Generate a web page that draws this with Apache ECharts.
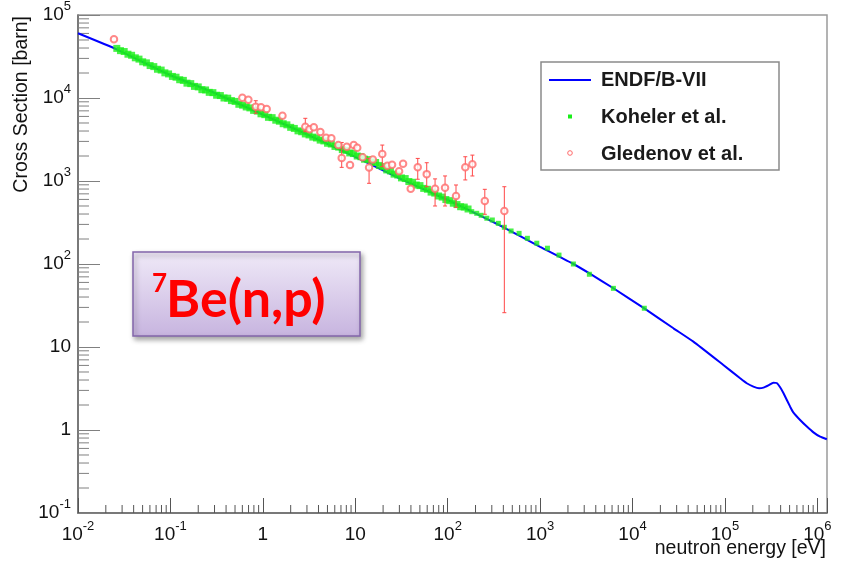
<!DOCTYPE html>
<html>
<head>
<meta charset="utf-8">
<script src="https://cdn.jsdelivr.net/npm/echarts@6/dist/echarts.min.js"></script>
<style>
  html, body { margin: 0; padding: 0; background: #fff; }
  #main { width: 846px; height: 563px; }
</style>
</head>
<body>
<div id="main"></div>
<script>
// axis ranges / ticks
const xMin = 0.01, xMax = 1.27e6;
const yMin = 0.1, yMax = 1e5;
const xDecades = [0.01, 0.1, 1, 10, 100, 1e3, 1e4, 1e5, 1e6];
const yDecades = [0.1, 1, 10, 100, 1e3, 1e4];
const minorSteps = [2, 3, 4, 5, 6, 7, 8, 9];

// ENDF/B-VII evaluation
const endfEnergy = [0.01, 0.0262, 0.1, 0.3, 1, 3, 10, 31.6, 100, 200, 397, 1000, 2290, 3560, 6210,
  13400, 27700, 45500, 96000, 146000, 172000, 203000, 234000, 261000, 295000, 334000, 363000, 395000,
  430000, 507000, 551000, 650000, 769000, 906000, 1070000, 1265000];
const endfSigma = [60300, 38600, 18800, 11500, 6300, 3650, 1950, 1050, 590, 408, 279, 161, 100, 75, 51,
  29.2, 16.8, 11.6, 6.07, 4.20, 3.66, 3.33, 3.18, 3.24, 3.45, 3.71, 3.68, 3.27,
  2.77, 1.91, 1.62, 1.32, 1.10, 0.937, 0.83, 0.773];

// Koehler et al.
const koehlerEnergy = [0.0263, 0.0288, 0.0316, 0.0347, 0.038, 0.0417, 0.0457, 0.0501, 0.055, 0.0603,
  0.0661, 0.0724, 0.0794, 0.0871, 0.0955, 0.105, 0.115, 0.126, 0.138, 0.151, 0.166, 0.182, 0.2, 0.219,
  0.24, 0.263, 0.288, 0.316, 0.347, 0.38, 0.417, 0.457, 0.501, 0.55, 0.603, 0.661, 0.724, 0.794, 0.871,
  0.955, 1.05, 1.15, 1.26, 1.38, 1.51, 1.66, 1.82, 2.0, 2.19, 2.4, 2.63, 2.88, 3.16, 3.47, 3.8, 4.17,
  4.57, 5.01, 5.5, 6.03, 6.61, 7.24, 7.94, 8.71, 9.55, 10.5, 11.5, 12.6, 13.8, 15.1, 16.6, 18.2, 20.0,
  21.9, 24.0, 26.3, 28.8, 31.6, 34.7, 38.0, 41.7, 45.7, 50.1, 55.0, 60.3, 66.1, 72.4, 79.4, 87.1, 95.5,
  105, 115, 126, 138, 151, 166,
  182, 206, 230, 265, 304, 353, 410, 485, 592, 728, 920, 1200, 1600, 2290, 3410, 6210, 13400];
const koehlerSigma = [39600, 37200, 36300, 33700, 32700, 30500, 29400, 27300, 26500, 24600,
  23900, 22200, 21700, 20100, 19500, 18200, 17800, 16600, 16300, 15100, 14900, 13800, 13600, 12600,
  12500, 11700, 11600, 10800, 10700, 10000, 9950, 9300, 9100, 8400, 8200, 7800, 7600, 7100, 6950,
  6450, 6300, 5850, 5800, 5400, 5250, 4900, 4750, 4430, 4300, 4020, 3920, 3690, 3590, 3380, 3300, 3110,
  3040, 2850, 2790, 2610, 2560, 2390, 2340, 2180, 2140, 2000, 1960, 1830, 1810, 1700, 1670, 1540, 1490,
  1360, 1320, 1210, 1180, 1090, 1070, 985, 965, 895, 880, 815, 795, 735, 715, 660, 640, 598,
  580, 540, 520, 490, 485, 460,
  427, 408, 386, 356, 339, 309, 277, 250, 234, 204, 178, 155, 128, 100, 75.2, 50.9, 29.3];

// Gledenov et al.
const gledEnergy = [0.0245, 0.600, 0.697, 0.838, 0.955, 1.10, 1.63, 2.88, 3.19, 3.56, 4.19, 4.83, 5.51,
  6.56, 8.09, 7.13, 8.77, 9.62, 10.5, 12.0, 14.1, 15.5, 19.6, 22.2, 25.0, 29.8, 32.9, 39.8, 47.4, 59.3,
  73.0, 93.6, 123, 155, 185, 252, 410];
const gledSigma = [50900, 10100, 9550, 7850, 7730, 7360, 6120, 4510, 4200, 4440, 3890, 3320, 3270,
  2710, 2590, 1890, 1560, 2710, 2520, 1930, 1450, 1820, 2110, 1530, 1570, 1310, 1610, 807, 1460, 1210,
  807, 830, 659, 1460, 1590, 574, 436];
const gledErrEnergy = [0.838, 2.88, 7.13, 14.1, 19.6, 47.4, 59.3, 73.0, 93.6, 123, 155, 185, 252, 410];
const gledErrLow = [6550, 3930, 1460, 938, 1490, 1050, 853, 500, 500, 482, 1030, 1150, 397, 25.9];
const gledErrHigh = [9270, 5690, 2910, 1870, 2710, 1870, 1660, 1060, 1150, 895, 1960, 2050, 794, 853];

const FONT = "'Liberation Sans', Arial, sans-serif";

function powLabel(v) {
  const l = Math.log10(v);
  const e = Math.round(l);
  if (Math.abs(l - e) > 1e-6) return '';
  if (e === 0) return '{b|1}';
  if (e === 1) return '{b|10}';
  return '{b|10}{s|' + e + '}';
}
const labelRich = {
  b: { fontSize: 19, lineHeight: 30, color: '#111', fontFamily: FONT },
  s: { fontSize: 13, lineHeight: 14, verticalAlign: 'top', color: '#111', fontFamily: FONT }
};

// minor tick positions
const minorTicks = [];
xDecades.forEach(d => minorSteps.forEach(k => { if (d * k < xMax) minorTicks.push([d * k, yMin, 0]); }));
yDecades.forEach(d => minorSteps.forEach(k => { if (d * k < yMax) minorTicks.push([xMin, d * k, 1]); }));

const chart = echarts.init(document.getElementById('main'));
const option = {
  animation: false,
  backgroundColor: '#fff',
  grid: { left: 78, right: 19, top: 15, bottom: 50, show: true, borderColor: '#9a9a9a', borderWidth: 1.5 },
  xAxis: {
    type: 'log', logBase: 10, min: xMin, max: xMax,
    axisLine: { lineStyle: { color: '#666', width: 1.5 } },
    axisTick: { inside: true, length: 15, lineStyle: { color: '#555' } },
    axisLabel: { formatter: powLabel, rich: labelRich, margin: 7 },
    splitLine: { show: false }
  },
  yAxis: {
    type: 'log', logBase: 10, min: yMin, max: yMax,
    axisLine: { lineStyle: { color: '#666', width: 1.5 } },
    axisTick: { inside: true, length: 22, lineStyle: { color: '#808080' } },
    axisLabel: { formatter: powLabel, rich: labelRich, margin: 7 },
    splitLine: { show: false }
  },
  series: [
    {
      type: 'custom', name: 'minor ticks', silent: true, z: 1,
      data: minorTicks,
      renderItem: (params, api) => {
        const p = api.coord([api.value(0), api.value(1)]);
        const vertical = api.value(2) === 0;
        return {
          type: 'line',
          shape: vertical ? { x1: p[0], y1: p[1], x2: p[0], y2: p[1] - 8 }
                          : { x1: p[0], y1: p[1], x2: p[0] + 11, y2: p[1] },
          style: { stroke: vertical ? '#555' : '#808080', lineWidth: 1 }
        };
      }
    },
    {
      type: 'line', name: 'ENDF/B-VII', z: 2,
      data: endfEnergy.map((e, i) => [e, endfSigma[i]]),
      showSymbol: false, smooth: 0.15,
      lineStyle: { color: '#0000ff', width: 2 }
    },
    {
      type: 'scatter', name: 'Koheler et al.', z: 3,
      data: koehlerEnergy.map((e, i) => [e, koehlerSigma[i]]),
      symbol: 'rect',
      symbolSize: v => (v[0] > 170 ? 5 : 7),
      itemStyle: { color: '#1aee1a' }
    },
    {
      type: 'custom', name: 'Gledenov errors', z: 4,
      data: gledErrEnergy.map((e, i) => [e, gledErrLow[i], gledErrHigh[i]]),
      renderItem: (params, api) => {
        const lo = api.coord([api.value(0), api.value(1)]);
        const hi = api.coord([api.value(0), api.value(2)]);
        const st = { stroke: '#ff4848', lineWidth: 1 };
        return {
          type: 'group',
          children: [
            { type: 'line', shape: { x1: lo[0], y1: lo[1], x2: hi[0], y2: hi[1] }, style: st },
            { type: 'line', shape: { x1: lo[0] - 2, y1: lo[1], x2: lo[0] + 2, y2: lo[1] }, style: st },
            { type: 'line', shape: { x1: hi[0] - 2, y1: hi[1], x2: hi[0] + 2, y2: hi[1] }, style: st }
          ]
        };
      }
    },
    {
      type: 'scatter', name: 'Gledenov et al.', z: 5,
      data: gledEnergy.map((e, i) => [e, gledSigma[i]]),
      symbol: 'emptyCircle', symbolSize: 6.5,
      itemStyle: { color: '#ff6a6a', borderWidth: 0.8 }
    }
  ],
  graphic: [
    // axis titles
    {
      type: 'text', x: 22, y: 16, rotation: Math.PI / 2,
      style: { text: 'Cross Section [barn]', font: '19.5px ' + FONT, fill: '#111', align: 'right', verticalAlign: 'middle' }
    },
    {
      type: 'text', x: 826, y: 549,
      style: { text: 'neutron energy [eV]', font: '19.5px ' + FONT, fill: '#111', align: 'right', verticalAlign: 'middle' }
    },
    // legend
    {
      type: 'group', z: 10,
      children: [
        { type: 'rect', shape: { x: 541, y: 62, width: 238, height: 108 },
          style: { fill: '#fff', stroke: '#8a8a8a', lineWidth: 1.5 } },
        { type: 'line', shape: { x1: 549, y1: 80, x2: 591, y2: 80 }, style: { stroke: '#0000ff', lineWidth: 2 } },
        { type: 'rect', shape: { x: 568, y: 114.5, width: 4, height: 4 }, style: { fill: '#1aee1a' } },
        { type: 'circle', shape: { cx: 570, cy: 153, r: 2.3 }, style: { fill: '#fff', stroke: '#ff6a6a', lineWidth: 1 } },
        { type: 'text', x: 601, y: 80, style: { text: 'ENDF/B-VII', font: 'bold 20px ' + FONT, fill: '#1a1a1a', verticalAlign: 'middle' } },
        { type: 'text', x: 601, y: 117, style: { text: 'Koheler et al.', font: 'bold 20px ' + FONT, fill: '#1a1a1a', verticalAlign: 'middle' } },
        { type: 'text', x: 601, y: 154, style: { text: 'Gledenov et al.', font: 'bold 20px ' + FONT, fill: '#1a1a1a', verticalAlign: 'middle' } }
      ]
    },
    // reaction label box
    {
      type: 'group', z: 10,
      children: [
        { type: 'rect', shape: { x: 133, y: 252, width: 227, height: 84 },
          style: {
            fill: { type: 'linear', x: 0, y: 0, x2: 0, y2: 1,
              colorStops: [{ offset: 0, color: '#f0eaf8' }, { offset: 1, color: '#c7b4df' }] },
            stroke: '#8366ab', lineWidth: 1.5,
            shadowBlur: 5, shadowOffsetX: 2, shadowOffsetY: 3, shadowColor: 'rgba(0,0,0,0.35)'
          } },
        { type: 'text', x: 152, y: 284, style: { text: '7', font: 'bold 26px Lato, sans-serif', fill: '#ff0000', verticalAlign: 'middle' } },
        { type: 'text', x: 166, y: 300, style: { text: 'Be(n,p)', font: 'bold 52px Lato, sans-serif', fill: '#ff0000', verticalAlign: 'middle' } }
      ]
    }
  ]
};
option && chart.setOption(option);
</script>
</body>
</html>
